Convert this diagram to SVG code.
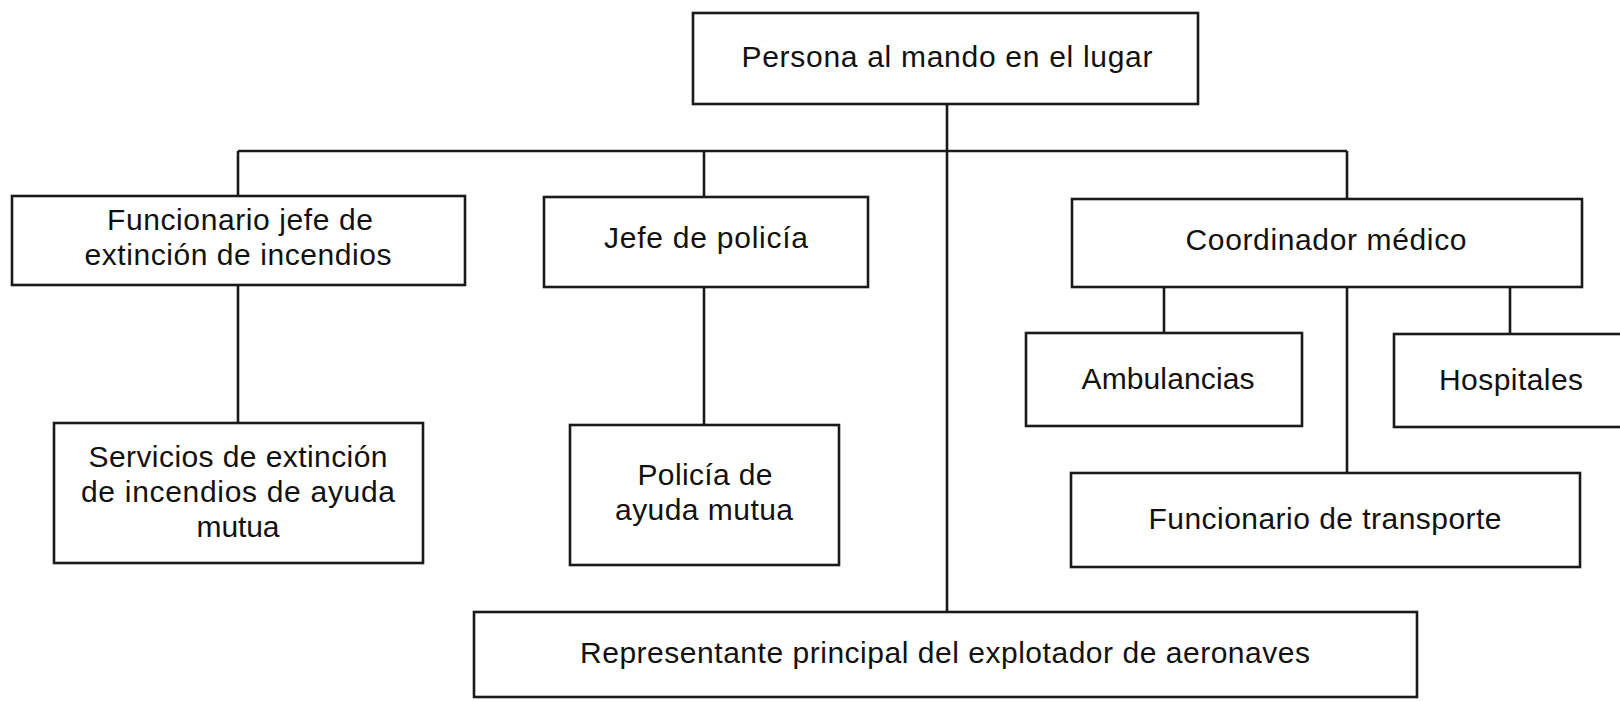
<svg xmlns="http://www.w3.org/2000/svg" width="1620" height="701" viewBox="0 0 1620 701">
<style>
.box{fill:#fff;stroke:#1a1a1a;stroke-width:2.6}
.ln{fill:none;stroke:#1a1a1a;stroke-width:2.6}
text{font-family:"Liberation Sans",Arial,sans-serif;font-size:30px;fill:#111;text-anchor:middle}
</style>
<rect width="1620" height="701" fill="#fff"/>
<g id="connectors">
<path class="ln" d="M947 104V612"/>
<path class="ln" d="M238 151H1347"/>
<path class="ln" d="M238 151V196M704 151V197M1347 151V199"/>
<path class="ln" d="M238 285V423M704 287V425"/>
<path class="ln" d="M1164 287V333M1347 287V473M1510 287V334"/>
</g>
<g id="n-persona"><rect class="box" x="693" y="13" width="505" height="91"/><text x="947" y="67" textLength="411" lengthAdjust="spacing">Persona al mando en el lugar</text></g>
<g id="n-funcionario-jefe"><rect class="box" x="12" y="196" width="453" height="89"/><text x="240" y="230" textLength="266" lengthAdjust="spacing">Funcionario jefe de</text><text x="238" y="265" textLength="307" lengthAdjust="spacing">extinción de incendios</text></g>
<g id="n-jefe-policia"><rect class="box" x="544" y="197" width="324" height="90"/><text x="706" y="248" textLength="204" lengthAdjust="spacing">Jefe de policía</text></g>
<g id="n-coordinador"><rect class="box" x="1072" y="199" width="510" height="88"/><text x="1326" y="250" textLength="281" lengthAdjust="spacing">Coordinador médico</text></g>
<g id="n-servicios"><rect class="box" x="54" y="423" width="369" height="140"/><text x="238" y="467" textLength="299" lengthAdjust="spacing">Servicios de extinción</text><text x="238" y="502" textLength="314" lengthAdjust="spacing">de incendios de ayuda</text><text x="238" y="537" textLength="83" lengthAdjust="spacing">mutua</text></g>
<g id="n-policia-ayuda"><rect class="box" x="570" y="425" width="269" height="140"/><text x="705" y="485" textLength="135" lengthAdjust="spacing">Policía de</text><text x="704" y="520" textLength="178" lengthAdjust="spacing">ayuda mutua</text></g>
<g id="n-ambulancias"><rect class="box" x="1026" y="333" width="276" height="93"/><text x="1168" y="389" textLength="173" lengthAdjust="spacing">Ambulancias</text></g>
<g id="n-hospitales"><rect class="box" x="1394" y="334" width="240" height="93"/><text x="1511" y="390" textLength="144" lengthAdjust="spacing">Hospitales</text></g>
<g id="n-transporte"><rect class="box" x="1071" y="473" width="509" height="94"/><text x="1325" y="529" textLength="353" lengthAdjust="spacing">Funcionario de transporte</text></g>
<g id="n-representante"><rect class="box" x="474" y="612" width="943" height="85"/><text x="945" y="663" textLength="730" lengthAdjust="spacing">Representante principal del explotador de aeronaves</text></g>
</svg>
